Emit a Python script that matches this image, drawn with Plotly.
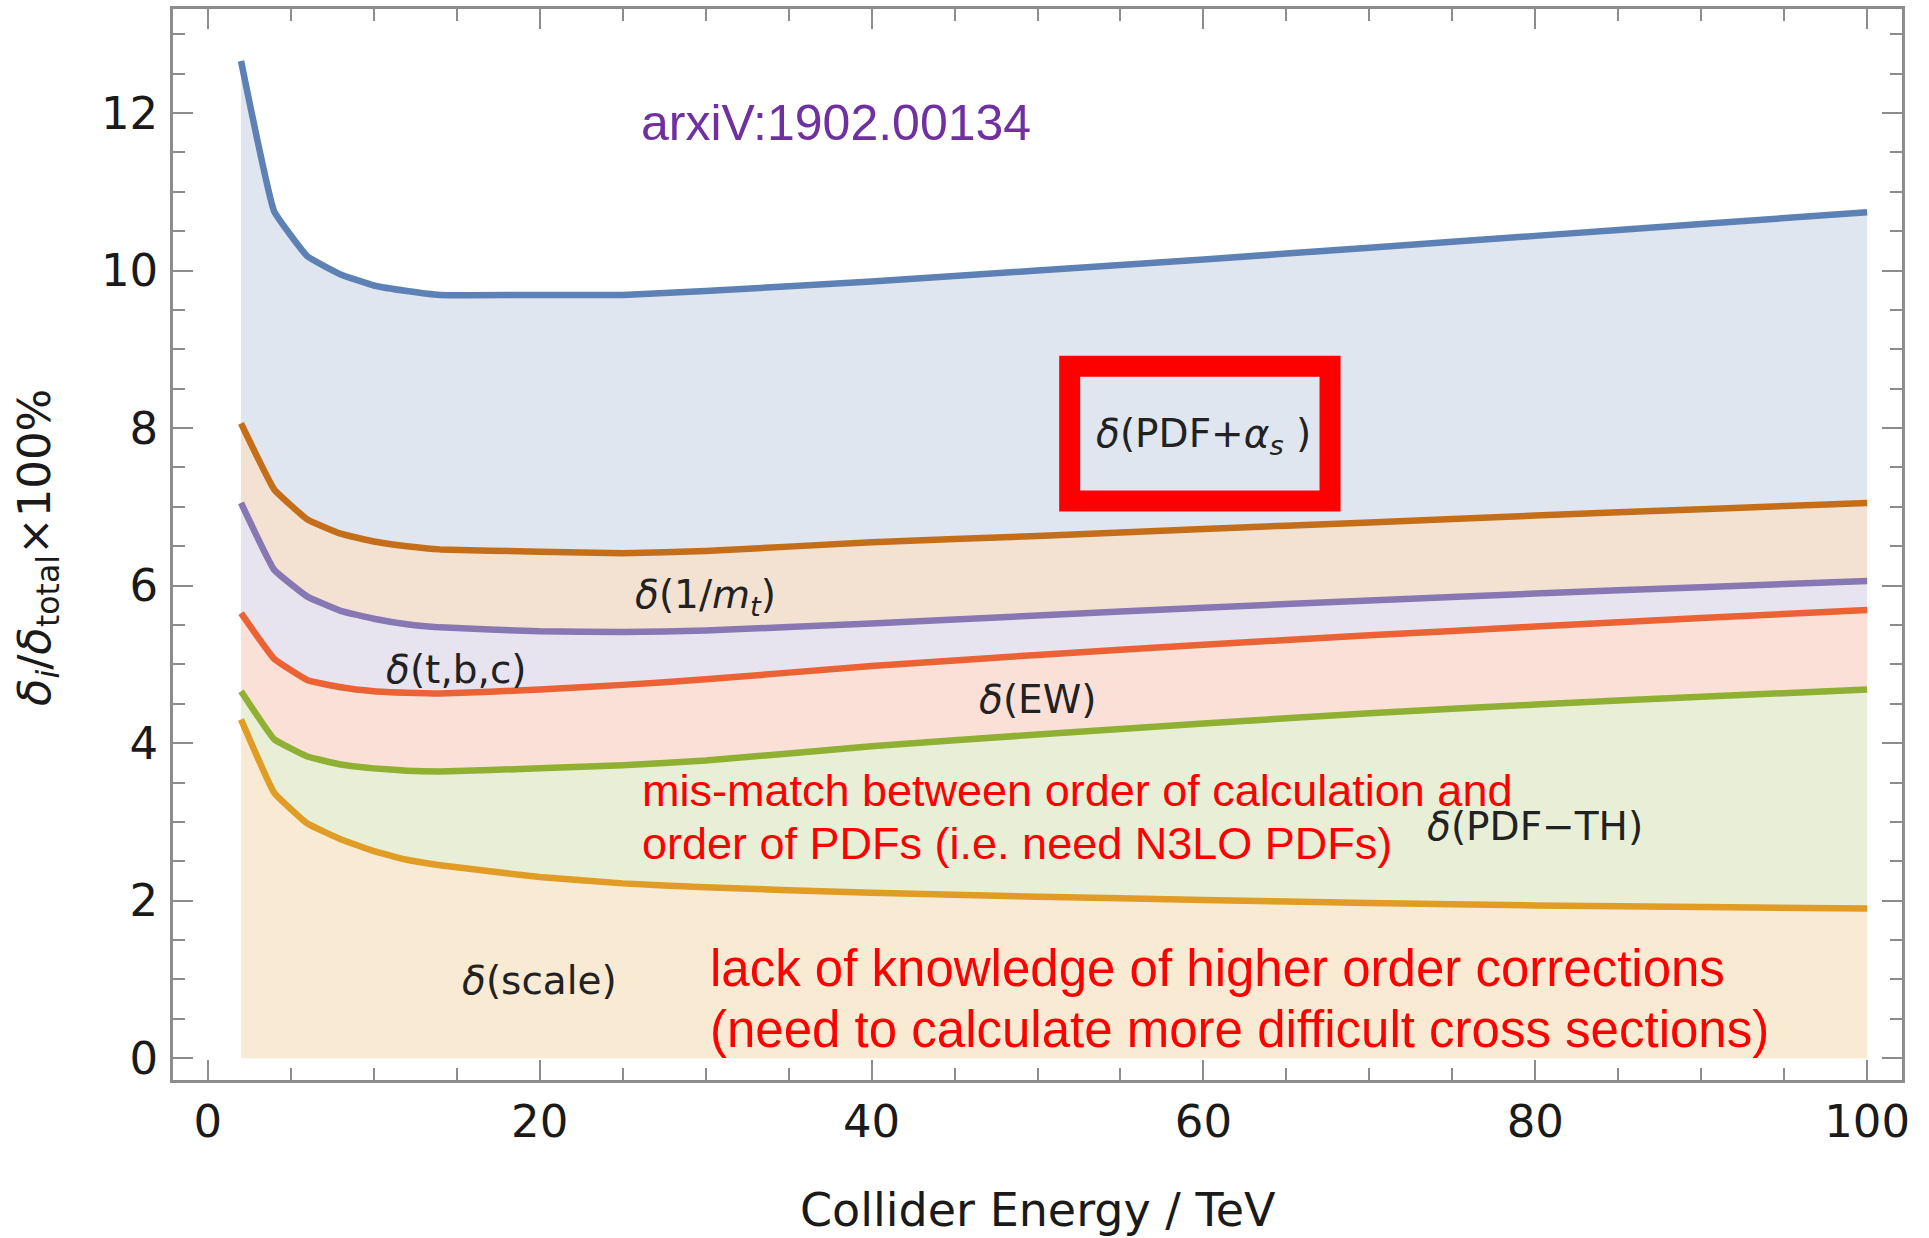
import plotly.graph_objects as go

# Collider energy grid (TeV)
energy = [2, 4, 6, 8, 10, 12, 14, 20, 25, 30, 40, 50, 60, 70, 80, 90, 100]

# Cumulative uncertainty contributions, delta_i / delta_total x 100%
scale   = [4.30, 3.37, 2.98, 2.78, 2.63, 2.52, 2.45, 2.30, 2.22, 2.17, 2.10, 2.05, 2.01, 1.97, 1.94, 1.92, 1.90]
pdf_th  = [4.66, 4.05, 3.83, 3.73, 3.68, 3.65, 3.64, 3.68, 3.72, 3.78, 3.96, 4.11, 4.25, 4.38, 4.49, 4.59, 4.68]
ew      = [5.65, 5.07, 4.80, 4.71, 4.66, 4.64, 4.63, 4.68, 4.74, 4.81, 4.98, 5.12, 5.25, 5.37, 5.48, 5.59, 5.69]
tbc     = [7.05, 6.20, 5.86, 5.68, 5.58, 5.51, 5.47, 5.42, 5.41, 5.43, 5.52, 5.62, 5.72, 5.81, 5.90, 5.98, 6.06]
inv_mt  = [8.06, 7.22, 6.84, 6.66, 6.56, 6.50, 6.46, 6.43, 6.41, 6.44, 6.55, 6.63, 6.72, 6.80, 6.89, 6.97, 7.05]
pdf_as  = [12.66, 10.75, 10.18, 9.95, 9.81, 9.74, 9.69, 9.69, 9.69, 9.74, 9.86, 10.00, 10.14, 10.29, 10.44, 10.59, 10.74]

series = [
    ("scale", scale, "#E09C24", "rgba(224,156,36,0.2)"),
    ("PDF-TH", pdf_th, "#8FB032", "rgba(143,176,50,0.2)"),
    ("EW", ew, "#EB6235", "rgba(235,98,53,0.2)"),
    ("t,b,c", tbc, "#8778B3", "rgba(135,120,179,0.2)"),
    ("1/mt", inv_mt, "#C56E1A", "rgba(197,110,26,0.2)"),
    ("PDF+as", pdf_as, "#5E81B5", "rgba(94,129,181,0.2)"),
]

# Band labels: (text, energy, percent)
band_labels = [
    ("<i>δ</i>(PDF+<i>α</i><sub><i>s</i></sub> )", 60, 7.90),
    ("<i>δ</i>(1/<i>m</i><sub><i>t</i></sub>)", 30, 5.86),
    ("<i>δ</i>(t,b,c)", 15, 4.93),
    ("<i>δ</i>(EW)", 50, 4.55),
    ("<i>δ</i>(PDF−TH)", 80, 2.94),
    ("<i>δ</i>(scale)", 20, 0.99),
]

fig = go.Figure()
for i, (name, vals, col, fcol) in enumerate(series):
    fig.add_trace(go.Scatter(
        x=energy, y=vals, name=name, mode="lines",
        line=dict(color=col, width=6.5, shape="spline", smoothing=0.3),
        fill="tozeroy" if i == 0 else "tonexty",
        fillcolor=fcol, showlegend=False, hoverinfo="skip",
    ))

frame = "#8c8c8c"
ink = "#1a1a1a"
tickfont = dict(family="DejaVu Sans", size=45, color=ink)

fig.update_xaxes(
    range=[-2.1, 102.1], tick0=0, dtick=20,
    ticks="inside", ticklen=20, tickwidth=2, tickcolor=frame,
    minor=dict(dtick=5, ticks="inside", ticklen=12, tickwidth=2, tickcolor=frame),
    showline=True, linecolor=frame, linewidth=2.5, mirror="ticks",
    showgrid=False, zeroline=False, tickfont=tickfont, automargin=False,
)
fig.update_yaxes(
    range=[-0.276, 13.32], tick0=0, dtick=2,
    ticks="inside", ticklen=20, tickwidth=2, tickcolor=frame,
    minor=dict(dtick=0.5, ticks="inside", ticklen=12, tickwidth=2, tickcolor=frame),
    showline=True, linecolor=frame, linewidth=2.5, mirror="ticks",
    showgrid=False, zeroline=False, tickfont=tickfont, ticklabelstandoff=3, automargin=False,
)

annotations = [
    # axis titles
    dict(xref="paper", yref="paper", x=0.5, y=-0.1214, text="Collider Energy / TeV",
         showarrow=False, xanchor="center", yanchor="middle",
         font=dict(family="DejaVu Sans", size=46, color=ink)),
    dict(xref="paper", yref="paper", x=-0.079, y=0.497, textangle=-90,
         text="<i>δ</i><sub><i>i</i></sub>/<i>δ</i><sub>total</sub>×100%",
         showarrow=False, xanchor="center", yanchor="middle",
         font=dict(family="DejaVu Sans", size=45, color=ink)),
]
for text, ex, pct in band_labels:
    annotations.append(dict(x=ex, y=pct, text=text, showarrow=False, xanchor="center", yanchor="middle",
                            font=dict(family="DejaVu Sans", size=39, color="#222222")))

annotations.append(dict(x=26.0, y=11.87, text="arxiV:1902.00134", showarrow=False, xanchor="left", yanchor="middle",
                        font=dict(family="Liberation Sans", size=50, color="#7030A0")))

red_notes = [
    ("mis-match between order of calculation and", 26.05, 3.40, 45),
    ("order of PDFs (i.e. need N3LO PDFs)", 26.05, 2.73, 45),
    ("lack of knowledge of higher order corrections", 30.16, 1.14, 51),
    ("(need to calculate more difficult cross sections)", 30.16, 0.36, 51),
]
for text, ex, pct, size in red_notes:
    annotations.append(dict(x=ex, y=pct, text=text, showarrow=False, xanchor="left", yanchor="middle",
                            font=dict(family="Liberation Sans", size=size, color="#FF0000")))

fig.update_layout(
    width=1929, height=1238,
    margin=dict(l=173, r=27, t=9, b=158),
    paper_bgcolor="white", plot_bgcolor="white",
    annotations=annotations,
    shapes=[dict(type="rect", xref="x", yref="y", x0=51.94, x1=67.63, y0=7.074, y1=8.785,
                 line=dict(color="#FF0000", width=21), fillcolor="rgba(0,0,0,0)")],
)

fig.write_html("out.html")
